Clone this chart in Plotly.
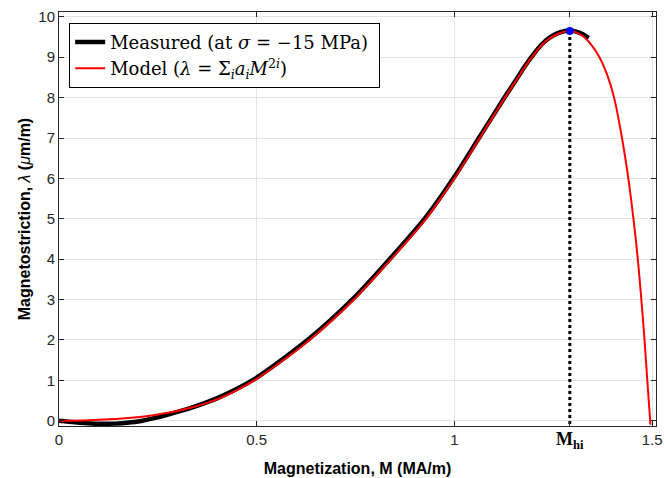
import plotly.graph_objects as go

# Measured magnetostriction (at sigma = -15 MPa)
M_meas = [0, 0.04, 0.08, 0.12, 0.16, 0.2, 0.243, 0.285, 0.328, 0.37, 0.412, 0.494, 0.634, 0.746,
          0.840, 0.928, 1.0, 1.064, 1.128, 1.16, 1.18, 1.2, 1.22, 1.24, 1.26, 1.28, 1.292,
          1.31, 1.325, 1.34]
lam_meas = [0.0, -0.04, -0.07, -0.075, -0.06, -0.02, 0.07, 0.18, 0.30, 0.44, 0.61, 1.03, 2.04, 3.04,
            4.04, 5.04, 6.04, 7.03, 8.02, 8.5, 8.8, 9.07, 9.31, 9.48, 9.59, 9.65, 9.66,
            9.63, 9.57, 9.48]

# Model curve
M_model = [0, 0.075, 0.159, 0.243, 0.328, 0.412, 0.494, 0.634, 0.746, 0.840, 0.928, 1.0,
           1.064, 1.128, 1.16, 1.18, 1.2, 1.22, 1.24, 1.26, 1.28, 1.292, 1.31, 1.328, 1.347,
           1.367, 1.387, 1.404, 1.424, 1.44, 1.453, 1.464, 1.473, 1.481, 1.488, 1.496]
lam_model = [0, 0.015, 0.055, 0.145, 0.31, 0.58, 1.0, 2.0, 3.0, 4.0, 5.0, 6.0,
             7.0, 8.0, 8.48, 8.78, 9.05, 9.29, 9.46, 9.57, 9.635, 9.65, 9.61, 9.5, 9.3,
             9.0, 8.55, 8.0, 7.0, 6.0, 5.0, 4.0, 3.0, 2.0, 1.0, -0.1]

# Peak point
M_hi = [1.292]
lam_hi = [9.65]

x_ticks = [0, 0.5, 1, 1.292, 1.5]
x_ticktext = ["0", "0.5", "1",
              "<span style='font-family:Liberation Serif;font-size:18px;color:black'><b>M<sub>hi</sub></b></span>",
              "1.5"]
y_ticks = list(range(0, 11))

fig = go.Figure()
fig.add_trace(go.Scatter(x=M_meas, y=lam_meas, mode="lines",
                         line=dict(color="black", width=4.5, shape="spline", smoothing=0.8),
                         name="Measured (at <i>σ</i> = −15 MPa) "))
fig.add_trace(go.Scatter(x=M_model, y=lam_model, mode="lines",
                         line=dict(color="#ff0000", width=2, shape="spline", smoothing=0.8),
                         name="Model (<i>λ</i> = Σ<sub><i>i</i></sub><i>a<sub>i</sub>M</i><sup>2<i>i</i></sup>)"))
fig.add_trace(go.Scatter(x=[M_hi[0], M_hi[0]], y=[lam_hi[0], -0.13], mode="lines",
                         line=dict(color="black", width=3, dash="dot"), showlegend=False))
fig.add_trace(go.Scatter(x=M_hi, y=lam_hi, mode="markers", marker=dict(color="#0000ff", size=8),
                         showlegend=False))

axis_common = dict(showline=True, linecolor="#262626", linewidth=1, mirror="ticks", ticks="inside",
                   ticklen=5, tickcolor="#262626", showgrid=True, gridcolor="#e3e3e3", gridwidth=1,
                   zeroline=False, automargin=False,
                   tickfont=dict(family="Liberation Sans, Arial", size=15, color="#262626"))

fig.update_xaxes(range=[0, 1.51], tickvals=x_ticks, ticktext=x_ticktext,
                 title=dict(text="<b>Magnetization, M (MA/m)</b>", standoff=12,
                            font=dict(family="Liberation Sans, Arial", size=16, color="black")),
                 **axis_common)
fig.update_yaxes(range=[-0.13, 10.12], tickvals=y_ticks,
                 title=dict(text="<b>Magnetostriction, </b><i>λ</i><b> (</b><i>μ</i><b>m/m)</b>", standoff=3,
                            font=dict(family="Liberation Sans, Arial", size=16, color="black")),
                 **axis_common)

fig.update_layout(
    width=664, height=478,
    margin=dict(l=59, r=8, t=12, b=52),
    plot_bgcolor="white", paper_bgcolor="white",
    legend=dict(x=0.017, y=0.974, xanchor="left", yanchor="top",
                bgcolor="white", bordercolor="black", borderwidth=1,
                font=dict(family="DejaVu Serif", size=18, color="black"),
                tracegroupgap=0, itemwidth=30),
)

fig.write_html("out.html", config={"displayModeBar": False},
               post_script="document.body.style.margin='0';document.body.style.overflow='hidden';")
